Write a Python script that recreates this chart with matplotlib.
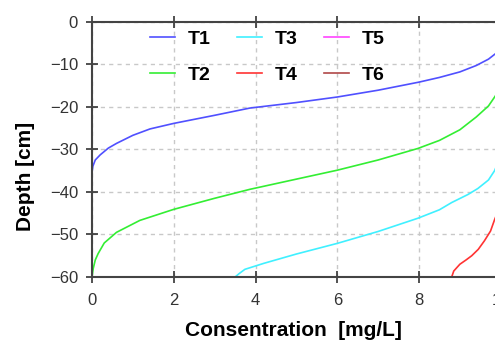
import matplotlib
matplotlib.use("Agg")
import matplotlib.pyplot as plt

plt.rcParams['font.family'] = ['Liberation Sans', 'DejaVu Sans']

# concentration [mg/L] vs depth [cm]
t1_conc = [0.0, 0.02, 0.08, 0.2, 0.4, 0.6, 1.0, 1.42, 2.0, 3.0, 3.86, 5.0, 6.0, 7.0, 8.0, 8.5, 9.0, 9.4, 9.7, 9.9, 10.0]
t1_depth = [-35.5, -34.0, -32.5, -31.3, -29.7, -28.6, -26.7, -25.2, -23.9, -22.0, -20.3, -19.0, -17.7, -16.1, -14.2, -13.1, -11.8, -10.3, -8.8, -7.3, -6.3]

t2_conc = [0.0, 0.03, 0.08, 0.15, 0.3, 0.6, 1.17, 2.0, 3.0, 3.86, 5.0, 6.0, 7.0, 7.97, 8.5, 9.0, 9.4, 9.7, 9.85, 10.0]
t2_depth = [-60.0, -58.0, -56.0, -54.5, -52.0, -49.5, -46.7, -44.1, -41.5, -39.4, -37.0, -34.9, -32.5, -29.8, -27.9, -25.4, -22.4, -19.8, -17.7, -15.5]

t3_conc = [3.5, 3.6, 3.74, 4.2, 5.0, 6.0, 7.0, 7.97, 8.5, 8.8, 9.2, 9.44, 9.7, 9.85, 10.0]
t3_depth = [-60.0, -59.2, -58.2, -56.8, -54.6, -52.1, -49.3, -46.2, -44.2, -42.5, -40.6, -39.2, -37.2, -35.0, -31.5]

t4_conc = [8.8, 8.85, 9.0, 9.15, 9.29, 9.45, 9.6, 9.75, 9.85, 10.0]
t4_depth = [-60.0, -58.6, -57.0, -56.0, -55.0, -53.5, -51.5, -49.2, -46.5, -43.0]

t5_conc, t5_depth = [], []
t6_conc, t6_depth = [], []

series = [("T1", t1_conc, t1_depth, '#5050ff'),
          ("T2", t2_conc, t2_depth, '#33ee33'),
          ("T3", t3_conc, t3_depth, '#40f0ff'),
          ("T4", t4_conc, t4_depth, '#ff3333'),
          ("T5", t5_conc, t5_depth, '#ff44ff'),
          ("T6", t6_conc, t6_depth, '#b04848')]

fig = plt.figure(figsize=(4.95, 3.40), dpi=100)
ax = fig.add_axes([92/495, 63/340, 408.75/495, 255.3/340])

for name, c, d, col in series:
    ax.plot(c, d, color=col, lw=1.2, label=name)

ax.set_xlim(0, 10)
ax.set_ylim(-60, 0)
ax.set_xticks([0, 2, 4, 6, 8, 10])
ax.set_yticks([0, -10, -20, -30, -40, -50, -60])

ax.grid(True, color='#c8c8c8', lw=1.0, linestyle=(0, (3, 3)))
ax.set_axisbelow(True)

for s in ax.spines.values():
    s.set_color('#444444')
    s.set_linewidth(1.5)

ax.tick_params(direction='inout', length=8, width=1.2, color='#333333',
               labelsize=12, labelcolor='#333333', top=True, right=True)
ax.tick_params(axis='x', pad=7.5)
ax.tick_params(axis='y', pad=6)

ax.set_xlabel("Consentration  [mg/L]", fontsize=15, fontweight='bold')
ax.set_ylabel("Depth [cm]", fontsize=15, fontweight='bold')
ax.xaxis.set_label_coords(0.492, -0.172)
ax.yaxis.set_label_coords(-0.139, 0.392)

leg = ax.legend(ncol=3, frameon=False, loc='upper left',
                bbox_to_anchor=(150/495, 1 - 30/340), bbox_transform=fig.transFigure,
                borderpad=0, borderaxespad=0, handlelength=1.29, handletextpad=0.67,
                columnspacing=1.34, labelspacing=0.95,
                prop={'size': 14, 'weight': 'bold'})

fig.savefig("out.png", dpi=100)
